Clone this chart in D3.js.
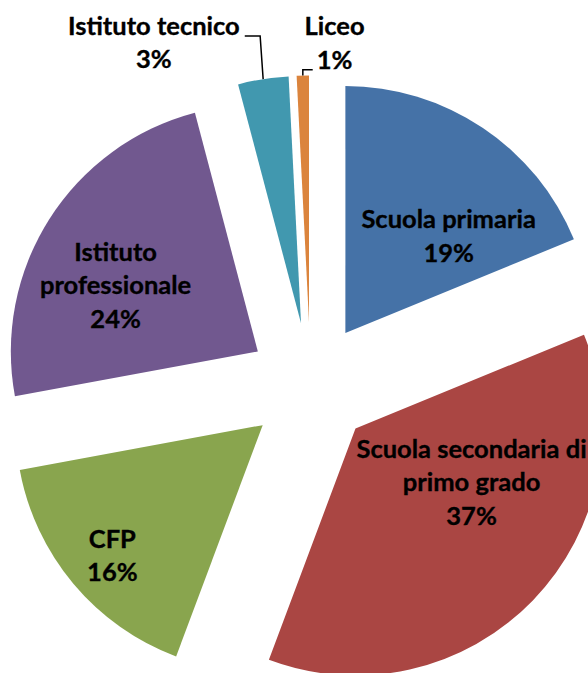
<!DOCTYPE html>
<html>
<head>
<meta charset="utf-8">
<script src="https://cdn.jsdelivr.net/npm/d3@7"></script>
<style>
  html, body { margin: 0; padding: 0; background: #fff; }
  svg { display: block; }
  text { font-family: Lato, "Open Sans", sans-serif; font-weight: bold; fill: #000; stroke: #000; stroke-width: 0.35px; }
</style>
</head>
<body>
<svg id="chart"></svg>
<script>
// slices, clockwise from 12 o'clock
const categories = ["Scuola primaria", "Scuola secondaria di primo grado", "CFP",
  "Istituto professionale", "Istituto tecnico", "Liceo"]
const shares = [18.8, 36.9, 16.4, 23.8, 3.3, 0.8]
const labelLines = [["Scuola primaria"], ["Scuola secondaria di", "primo grado"], ["CFP"],
  ["Istituto", "professionale"], ["Istituto tecnico"], ["Liceo"]]
const colors = ["#4572A7", "#AA4643", "#89A54E", "#71588F", "#4198AF", "#DB843D"]

const width = 588, height = 673
const cx = 310.6, cy = 385
const radius = 247
const explode = 62.5
const lineH = 33.5

// where each label sits: angle (deg, clockwise from top) and distance / radius, from the slice tip
const labelPos = [[46.4, 0.577], [114.4, 0.516], [229.3, 0.803], [295.3, 0.637], [332.4, 1.286], [5.2, 1.14]]
const outside = [false, false, false, false, true, true]

const svg = d3.select('#chart')
  .attr('width', width)
  .attr('height', height)

const pie = d3.pie().sort(null).value(d => d)
const arcs = pie(shares)
const arc = d3.arc().innerRadius(0).outerRadius(radius)

const fmt = d3.format('.0f')
const total = d3.sum(shares)

function polar(angle, r) {
  return [r * Math.sin(angle), -r * Math.cos(angle)]
}

arcs.forEach((a, i) => {
  const mid = (a.startAngle + a.endAngle) / 2
  const off = polar(mid, explode)
  a.tip = [cx + off[0], cy + off[1]]
  a.mid = mid
})

svg.selectAll('path.slice')
  .data(arcs)
  .enter().append('path')
  .attr('class', 'slice')
  .attr('transform', d => `translate(${d.tip[0]},${d.tip[1]})`)
  .attr('d', arc)
  .attr('fill', (d, i) => colors[i])

const labels = svg.selectAll('g.label')
  .data(arcs)
  .enter().append('g')
  .attr('class', 'label')
  .attr('transform', (d, i) => {
    const p = polar(labelPos[i][0] * Math.PI / 180, labelPos[i][1] * radius)
    return `translate(${d.tip[0] + p[0]},${d.tip[1] + p[1]})`
  })

labels.each(function (d, i) {
  const lines = labelLines[i].concat([fmt(d.data / total * 100) + '%'])
  const g = d3.select(this)
  lines.forEach((t, k) => {
    g.append('text')
      .attr('text-anchor', 'middle')
      .attr('dominant-baseline', 'central')
      .attr('y', (k - (lines.length - 1) / 2) * lineH)
      .style('font-size', '25.5px')
      .text(t)
  })
})

// leader lines for the two thin slices
labels.filter((d, i) => outside[i]).each(function (d) {
  const g = d3.select(this)
  const first = g.select('text').node().getBBox()
  const m = this.transform.baseVal.consolidate().matrix
  const onArc = polar(d.mid, radius)
  const ax = d.tip[0] + onArc[0], ay = d.tip[1] + onArc[1]
  let pts
  if (m.e < ax) {
    // label on the left: line from its first line's right end
    const y = m.f + first.y + first.height - 4
    pts = [[m.e + first.x + first.width + 5, y], [ax - 3, y], [ax, ay]]
  } else {
    const last = g.selectAll('text').nodes().pop().getBBox()
    const y = m.f + last.y + last.height - 4
    pts = [[m.e + last.x - 4, y], [ax, y], [ax, ay]]
  }
  svg.append('path')
    .attr('d', d3.line()(pts))
    .attr('fill', 'none')
    .attr('stroke', '#000')
    .attr('stroke-width', 1.5)
})
</script>
</body>
</html>
